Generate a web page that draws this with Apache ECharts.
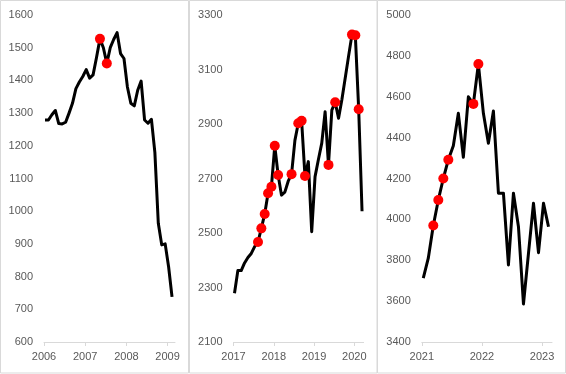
<!DOCTYPE html>
<html>
<head>
<meta charset="utf-8">
<script src="https://cdn.jsdelivr.net/npm/echarts@6/dist/echarts.min.js"></script>
<style>
html,body{margin:0;padding:0;background:#fff;}
#c{width:566px;height:374px;}
</style>
</head>
<body>
<div id="c"></div>
<script>
// ---- Panel 1: 2006-2009 ----
const p1Start = '2006-01';
const p1Values = [1279,1279,1295,1308,1268,1267,1272,1300,1330,1375,1395,1412,1433,1407,1417,1470,1527,1500,1452,1500,1525,1546,1482,1467,1380,1330,1322,1370,1398,1279,1269,1281,1180,963,897,900,830,738];
const p1RedMonths = ['2007-05','2007-07'];
const p1RedValues = [1527,1452];
const p1YTicks = [600,700,800,900,1000,1100,1200,1300,1400,1500,1600];
const p1XTicks = [2006,2007,2008,2009];

// ---- Panel 2: 2017-2020 ----
const p2Start = '2017-01';
const p2Values = [2279,2362,2362,2390,2410,2425,2450,2467,2517,2570,2646,2670,2820,2713,2639,2650,2690,2716,2840,2903,2912,2709,2762,2505,2707,2770,2830,2945,2750,2951,2980,2921,2990,3070,3150,3228,3226,2954,2580];
const p2RedMonths = ['2017-08','2017-09','2017-10','2017-11','2017-12','2018-01','2018-02','2018-06','2018-08','2018-09','2018-10','2019-05','2019-07','2019-12','2020-01','2020-02'];
const p2RedValues = [2467,2517,2570,2646,2670,2820,2713,2716,2903,2912,2709,2750,2980,3228,3226,2954];
const p2YTicks = [2100,2300,2500,2700,2900,3100,3300];
const p2XTicks = [2017,2018,2019,2020];

// ---- Panel 3: 2021-2023 ----
const p3Start = '2021-01';
const p3Values = [3712,3810,3970,4095,4200,4292,4360,4519,4304,4600,4565,4760,4519,4372,4530,4128,4128,3777,4128,3964,3586,3834,4079,3837,4079,3964];
const p3RedMonths = ['2021-03','2021-04','2021-05','2021-06','2021-11','2021-12'];
const p3RedValues = [3970,4095,4200,4292,4565,4760];
const p3YTicks = [3400,3600,3800,4000,4200,4400,4600,4800,5000];
const p3XTicks = [2021,2022,2023];

// date helpers: monthly observations dated the 10th of each month, converted to fractional years
function monthYear(ym){ const [y,m]=ym.split('-').map(Number); return y + (m-1)/12 + 9/365; }
function monthsFrom(start, n){
  let [y,m]=start.split('-').map(Number); const out=[];
  for(let i=0;i<n;i++){ out.push(y+'-'+String(m).padStart(2,'0')); m++; if(m>12){m=1;y++;} }
  return out;
}
function pairs(months, vals){ return months.map((d,i)=>[monthYear(d), vals[i]]); }

const panels = [
  {start:p1Start, vals:p1Values, rm:p1RedMonths, rv:p1RedValues, yt:p1YTicks, xt:p1XTicks, left:44, width:131, xmax:2009.18},
  {start:p2Start, vals:p2Values, rm:p2RedMonths, rv:p2RedValues, yt:p2YTicks, xt:p2XTicks, left:233.5, width:130.1, xmax:2020.23},
  {start:p3Start, vals:p3Values, rm:p3RedMonths, rv:p3RedValues, yt:p3YTicks, xt:p3XTicks, left:421.8, width:130.2, xmax:2023.166}
];

const font = 'Liberation Sans';
const labelColor = '#595959';
const grids=[], xAxes=[], yAxes=[], series=[];
panels.forEach((p,i)=>{
  grids.push({left:p.left, width:p.width, top:15, bottom:32, containLabel:false});
  xAxes.push({
    type:'value', gridIndex:i, min:p.xt[0], max:p.xmax,
    axisLine:{show:true, lineStyle:{color:'#d9d9d9', width:1}},
    axisTick:{show:true, length:4, lineStyle:{color:'#d9d9d9'}, customValues:p.xt},
    axisLabel:{customValues:p.xt, color:labelColor, fontFamily:font, fontSize:11, margin:9, formatter:v=>String(Math.round(v))},
    splitLine:{show:false}
  });
  yAxes.push({
    type:'value', gridIndex:i, min:p.yt[0], max:p.yt[p.yt.length-1],
    axisLine:{show:false}, axisTick:{show:false},
    axisLabel:{customValues:p.yt, color:labelColor, fontFamily:font, fontSize:11, margin:11, formatter:v=>String(Math.round(v))},
    splitLine:{show:false}
  });
  series.push({
    type:'line', xAxisIndex:i, yAxisIndex:i,
    data:pairs(monthsFrom(p.start, p.vals.length), p.vals),
    showSymbol:false, smooth:false, silent:true,
    lineStyle:{color:'#000', width:3, join:'round'}, z:2
  });
  series.push({
    type:'scatter', xAxisIndex:i, yAxisIndex:i,
    data:pairs(p.rm, p.rv), symbol:'circle', symbolSize:10,
    itemStyle:{color:'#ff0000', opacity:1}, z:3, silent:true
  });
});

const chart = echarts.init(document.getElementById('c'), null, {renderer:'canvas'});
chart.setOption({
  animation:false,
  backgroundColor:'#fff',
  grid:grids, xAxis:xAxes, yAxis:yAxes, series:series,
  graphic:[
    {type:'rect', shape:{x:0.5,y:0.5,width:188,height:372.5}, style:{fill:'none', stroke:'#d9d9d9', lineWidth:1}, silent:true},
    {type:'rect', shape:{x:189.5,y:0.5,width:187.5,height:372.5}, style:{fill:'none', stroke:'#d9d9d9', lineWidth:1}, silent:true},
    {type:'rect', shape:{x:377.5,y:0.5,width:188,height:372.5}, style:{fill:'none', stroke:'#d9d9d9', lineWidth:1}, silent:true}
  ]
});
</script>
</body>
</html>
